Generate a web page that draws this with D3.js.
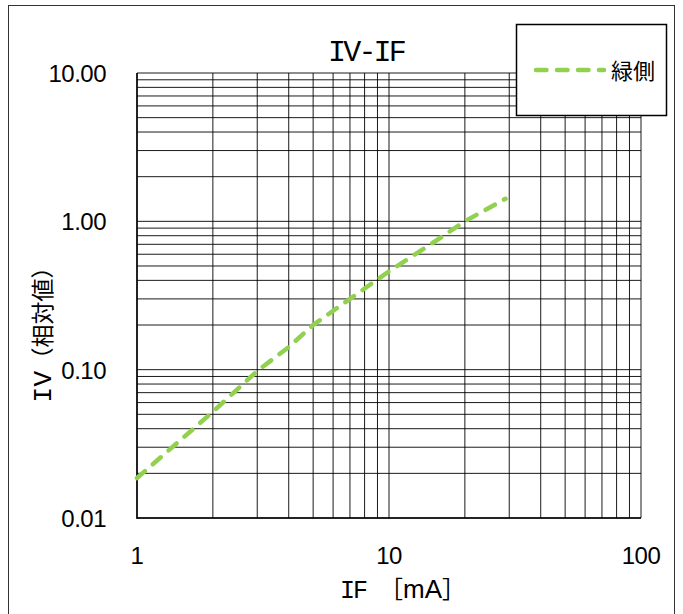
<!DOCTYPE html>
<html>
<head>
<meta charset="utf-8">
<script src="https://cdn.jsdelivr.net/npm/d3@7"></script>
<style>
  body { margin: 0; background: #fff; }
  svg { display: block; }
  .sans { font-family: "Liberation Sans", "Noto Sans CJK JP", sans-serif; }
  .mono { font-family: "Liberation Mono", "Noto Sans CJK JP", monospace; }
  .cjk { font-family: "Noto Sans CJK JP", sans-serif; }
</style>
</head>
<body>
<svg id="chart" width="683" height="614"></svg>
<script>
// IF [mA] and IV (relative)
var currents = [1, 2, 3, 4, 5, 7, 10, 15, 20, 29];
var intensity = [0.0186, 0.052, 0.098, 0.142, 0.20, 0.30, 0.46, 0.72, 1.0, 1.42];
var xTicks = [1, 10, 100];
var yTicks = [0.01, 0.1, 1, 10];
var seriesName = "緑側";

var svg = d3.select("#chart");
var plotLeft = 137, plotRight = 641, plotTop = 73, plotBottom = 518;

var x = d3.scaleLog().domain([1, 100]).range([plotLeft, plotRight]);
var y = d3.scaleLog().domain([0.01, 10]).range([plotBottom, plotTop]);

// outer frame
svg.append("rect")
    .attr("x", 8.5).attr("y", 5.5)
    .attr("width", 666).attr("height", 620)
    .attr("fill", "none").attr("stroke", "#333").attr("stroke-width", 1);

// grid lines: every 1..9 of each decade
var xGrid = [], yGrid = [];
[1, 10].forEach(function (d) { for (var k = 1; k < 10; k++) xGrid.push(d * k); });
xGrid.push(100);
[0.01, 0.1, 1].forEach(function (d) { for (var k = 1; k < 10; k++) yGrid.push(d * k); });
yGrid.push(10);

var grid = svg.append("g").attr("stroke", "#000").attr("stroke-width", 0.9);
grid.selectAll("line.v").data(xGrid).enter().append("line")
    .attr("x1", x).attr("x2", x).attr("y1", plotTop).attr("y2", plotBottom);
grid.selectAll("line.h").data(yGrid).enter().append("line")
    .attr("x1", plotLeft).attr("x2", plotRight).attr("y1", y).attr("y2", y);

// axis lines
svg.append("line").attr("x1", plotLeft).attr("x2", plotLeft).attr("y1", plotTop).attr("y2", plotBottom + 1)
    .attr("stroke", "#000").attr("stroke-width", 1.5);
svg.append("line").attr("x1", plotLeft).attr("x2", plotRight).attr("y1", plotBottom).attr("y2", plotBottom)
    .attr("stroke", "#000").attr("stroke-width", 1.5);

// tick labels
svg.append("g").attr("class", "sans").selectAll("text").data(xTicks).enter().append("text")
    .attr("x", x).attr("y", 564)
    .attr("text-anchor", "middle").attr("font-size", 24).attr("letter-spacing", -0.5)
    .attr("fill", "#000")
    .text(function (d) { return d; });

svg.append("g").attr("class", "sans").selectAll("text").data(yTicks).enter().append("text")
    .attr("x", 106).attr("y", function (d) { return y(d) + 9; })
    .attr("text-anchor", "end").attr("font-size", 24).attr("letter-spacing", -0.5)
    .attr("fill", "#000")
    .text(function (d) { return d.toFixed(2); });

// title
svg.append("text").attr("class", "mono")
    .attr("x", 366).attr("y", 61)
    .attr("text-anchor", "middle").attr("font-size", 30).attr("letter-spacing", -2.8)
    .attr("fill", "#000")
    .text("IV-IF");

// x axis title: latin and full-width parts set separately
var xTitle = svg.append("text")
    .attr("x", 403).attr("y", 598)
    .attr("text-anchor", "middle").attr("fill", "#000");
xTitle.append("tspan").attr("class", "mono").attr("font-size", 25).attr("letter-spacing", -2).text("IF ");
xTitle.append("tspan").attr("class", "cjk").attr("font-size", 24).text("［");
xTitle.append("tspan").attr("class", "sans").attr("font-size", 26).text("mA");
xTitle.append("tspan").attr("class", "cjk").attr("font-size", 24).text("］");

// y axis title
var yTitle = svg.append("text")
    .attr("transform", "translate(51,329) rotate(-90)")
    .attr("text-anchor", "middle").attr("fill", "#000");
yTitle.append("tspan").attr("class", "mono").attr("font-size", 26).attr("letter-spacing", 0.5).text("IV");
yTitle.append("tspan").attr("class", "cjk").attr("font-size", 23).text("（相対値）");

// series
var line = d3.line()
    .x(function (d, i) { return x(currents[i]); })
    .y(function (d) { return y(d); });

svg.append("path")
    .datum(intensity)
    .attr("d", line)
    .attr("fill", "none")
    .attr("stroke", "#92D050")
    .attr("stroke-width", 4.5)
    .attr("stroke-linecap", "round")
    .attr("stroke-dasharray", "10.5,10.5");

// legend
var legend = svg.append("g");
legend.append("rect")
    .attr("x", 516.5).attr("y", 24.5).attr("width", 150).attr("height", 91)
    .attr("fill", "#fff").attr("stroke", "#000").attr("stroke-width", 1.5);
legend.append("line")
    .attr("x1", 536).attr("x2", 604).attr("y1", 70).attr("y2", 70)
    .attr("stroke", "#92D050").attr("stroke-width", 4.5)
    .attr("stroke-linecap", "round").attr("stroke-dasharray", "10.5,10.5");
legend.append("text").attr("class", "cjk")
    .attr("x", 611).attr("y", 79)
    .attr("font-size", 22).attr("fill", "#000")
    .text(seriesName);
</script>
</body>
</html>
